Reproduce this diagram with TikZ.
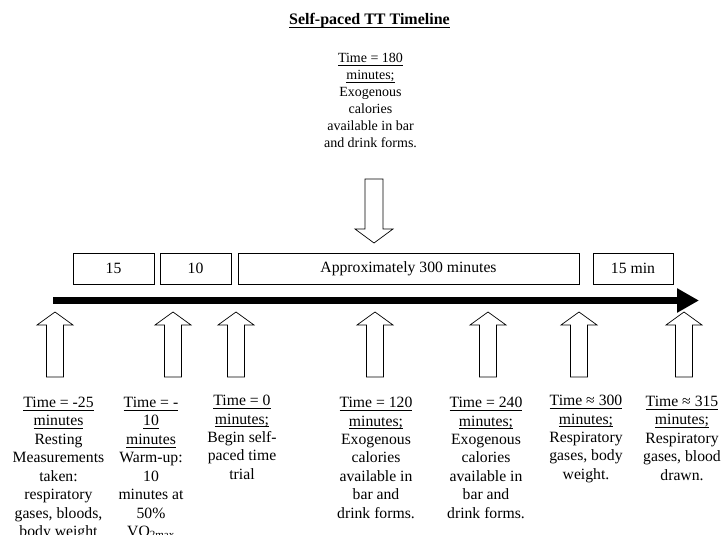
\documentclass[tikz,border=0pt]{standalone}
\usepackage{fontspec}
\setmainfont{Liberation Serif}
\usetikzlibrary{arrows.meta}

% underline at a fixed depth
\newcommand{\tline}[1]{\leavevmode\begingroup\setbox0\hbox{#1}%
  \rlap{\vrule height -2.2pt depth 3pt width \wd0}\box0\endgroup}

\begin{document}
\begin{tikzpicture}[
    x=1pt, y=-1pt,
    every node/.style={font=\fontsize{15.7}{18.4}\selectfont, inner sep=0pt},
    period/.style={draw, line width=0.8pt, minimum height=31pt},
    note/.style={align=center, anchor=north},
    timeline/.style={line width=7pt, -{Triangle[length=22pt,width=23pt]}},
    uparr/.pic={
      \draw[line width=0.7pt] (0,0) -- (18,13) -- (8.5,13) -- (8.5,65)
        -- (-8.5,65) -- (-8.5,13) -- (-18,13) -- cycle;
    },
    downarr/.pic={
      \draw[line width=0.7pt] (0,0) -- (19,-14) -- (9,-14) -- (9,-64)
        -- (-9,-64) -- (-9,-14) -- (-19,-14) -- cycle;
    }
  ]
  \useasboundingbox (0,0) rectangle (723,535);

  % Title
  \node[anchor=base, font=\fontsize{16}{19}\selectfont] (title) at (369.5,25) {\textbf{\tline{Self-paced TT Timeline}}};

  % Feeding at 180 min
  \node[note, font=\fontsize{14}{16.9}\selectfont] (t180) at (370.5,53) {\tline{Time = 180}\\ \tline{minutes;}\\ Exogenous\\ calories\\ available in bar\\ and drink forms.};
  \pic (d180) at (374,243) {downarr};

  % Periods
  \node[period, minimum width=81pt] (b15) at (113.5,268.5) {15};
  \node[period, minimum width=71pt] (b10) at (195.5,268.5) {10};
  \node[period, minimum width=341pt] (b300) at (408.5,268.5) {Approximately 300 minutes};
  \node[period, minimum width=80pt] (b15min) at (633,268.5) {15 min};

  % Time axis
  \coordinate (tstart) at (53,300.5);
  \coordinate (tend) at (699,300.5);
  \draw[timeline] (tstart) -- (tend);

  % Measurement points
  \pic (u1) at (55,312) {uparr};
  \pic (u2) at (173,312) {uparr};
  \pic (u3) at (236,312) {uparr};
  \pic (u4) at (375,312) {uparr};
  \pic (u5) at (488,312) {uparr};
  \pic (u6) at (579,312) {uparr};
  \pic (u7) at (684,312) {uparr};

  \node[note] (n1) at (58.5,397) {\tline{Time = -25}\\ \tline{minutes}\\ Resting\\ Measurements\\ taken:\\ respiratory\\ gases, bloods,\\ body weight};
  \node[note] (n2) at (151,397) {\tline{Time = -}\\ \tline{10}\\ \tline{minutes}\\ Warm-up:\\ 10\\ minutes at\\ 50\%\\ VO\textsubscript{2max}};
  \node[note] (n3) at (242,395) {\tline{Time = 0}\\ \tline{minutes;}\\ Begin self-\\ paced time\\ trial};
  \node[note] (n4) at (376,397) {\tline{Time = 120}\\ \tline{minutes;}\\ Exogenous\\ calories\\ available in\\ bar and\\ drink forms.};
  \node[note] (n5) at (486,397) {\tline{Time = 240}\\ \tline{minutes;}\\ Exogenous\\ calories\\ available in\\ bar and\\ drink forms.};
  \node[note] (n6) at (586,395) {\tline{Time ≈ 300}\\ \tline{minutes;}\\ Respiratory\\ gases, body\\ weight.};
  \node[note] (n7) at (682,396) {\tline{Time ≈ 315}\\ \tline{minutes;}\\ Respiratory\\ gases, blood\\ drawn.};

\end{tikzpicture}
\end{document}
